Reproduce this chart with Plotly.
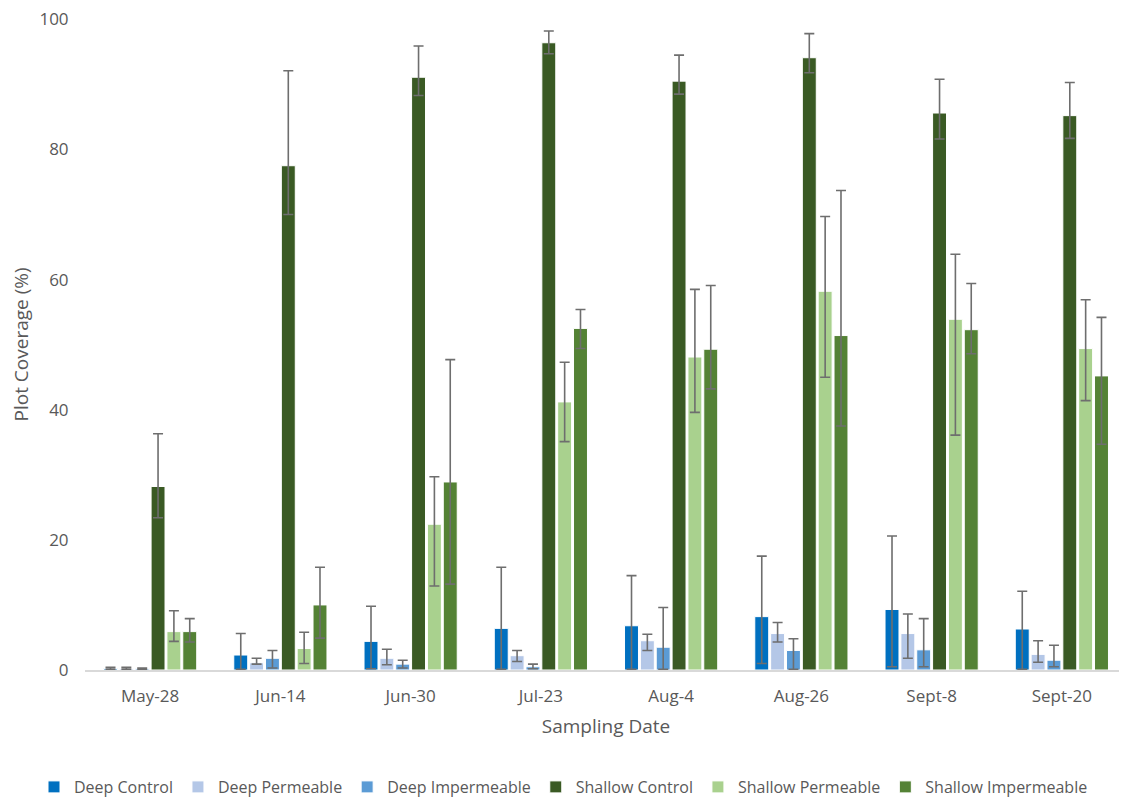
import plotly.graph_objects as go

dates = ["May-28", "Jun-14", "Jun-30", "Jul-23", "Aug-4", "Aug-26", "Sept-8", "Sept-20"]

deep_control = [0.2, 2.3, 4.4, 6.4, 6.8, 8.2, 9.3, 6.3]
deep_control_hi = [0.4, 5.6, 9.8, 15.8, 14.5, 17.5, 20.6, 12.1]
deep_control_lo = [0.1, 0.1, 0.2, 0.1, 0.1, 1.0, 0.5, 0.1]

deep_perm = [0.2, 1.1, 1.8, 2.2, 4.5, 5.6, 5.6, 2.4]
deep_perm_hi = [0.4, 1.8, 3.2, 3.0, 5.5, 7.3, 8.6, 4.5]
deep_perm_lo = [0.1, 0.9, 0.8, 1.3, 3.0, 4.3, 1.8, 1.2]

deep_imp = [0.2, 1.8, 0.9, 0.5, 3.5, 3.0, 3.1, 1.5]
deep_imp_hi = [0.3, 3.0, 1.5, 0.9, 9.6, 4.8, 7.9, 3.8]
deep_imp_lo = [0.1, 0.3, 0.3, 0.2, 0.1, 0.1, 0.5, 0.5]

shallow_control = [28.2, 77.5, 91.1, 96.4, 90.5, 94.1, 85.6, 85.2]
shallow_control_hi = [36.3, 92.1, 95.9, 98.2, 94.5, 97.8, 90.8, 90.3]
shallow_control_lo = [23.4, 70.0, 88.3, 94.7, 88.5, 91.8, 81.6, 81.7]

shallow_perm = [5.9, 3.3, 22.4, 41.2, 48.1, 58.2, 53.9, 49.4]
shallow_perm_hi = [9.1, 5.8, 29.7, 47.3, 58.5, 69.7, 63.9, 56.9]
shallow_perm_lo = [4.4, 1.0, 12.9, 35.1, 39.6, 45.0, 36.1, 41.4]

shallow_imp = [5.9, 10.0, 28.9, 52.5, 49.3, 51.4, 52.3, 45.2]
shallow_imp_hi = [7.9, 15.8, 47.7, 55.4, 59.1, 73.7, 59.4, 54.2]
shallow_imp_lo = [4.3, 4.9, 13.2, 49.4, 43.2, 37.5, 48.6, 34.7]

y_ticks = [0, 20, 40, 60, 80, 100]

series = [
    ("Deep Control", deep_control, deep_control_hi, deep_control_lo, "#0070C0"),
    ("Deep Permeable", deep_perm, deep_perm_hi, deep_perm_lo, "#B4C7E7"),
    ("Deep Impermeable", deep_imp, deep_imp_hi, deep_imp_lo, "#5B9BD5"),
    ("Shallow Control", shallow_control, shallow_control_hi, shallow_control_lo, "#3A5A24"),
    ("Shallow Permeable", shallow_perm, shallow_perm_hi, shallow_perm_lo, "#A9D18E"),
    ("Shallow Impermeable", shallow_imp, shallow_imp_hi, shallow_imp_lo, "#548235"),
]

FONT = "Open Sans"
GRAY = "#595959"

fig = go.Figure()
for name, vals, hi, lo, color in series:
    fig.add_trace(go.Bar(
        name=name, x=dates, y=vals,
        marker=dict(color=color, line=dict(color="white", width=1)),
        error_y=dict(
            type="data", symmetric=False,
            array=[h - v for h, v in zip(hi, vals)],
            arrayminus=[v - l for v, l in zip(vals, lo)],
            color="#6E6E6E", thickness=1.6, width=5,
        ),
    ))

# the page body has an 8px margin, so the figure is drawn at (8, 8)
H, W = 791, 1119
L, R, T, B = 77, 0, 11, 129
plot_h = H - T - B
plot_w = W - L - R

fig.update_layout(
    width=W, height=H,
    barmode="group", bargap=0.27, bargroupgap=0.12,
    paper_bgcolor="white", plot_bgcolor="white",
    margin=dict(l=L, r=R, t=T, b=B, autoexpand=False),
    font=dict(family=FONT, size=16, color=GRAY),
    showlegend=True,
    legend=dict(
        orientation="h", x=(26 - L) / plot_w, xanchor="left",
        y=-(779 - (H - B)) / plot_h, yanchor="middle",
        font=dict(family=FONT, size=16, color=GRAY),
        itemwidth=30, tracegroupgap=0,
    ),
    xaxis=dict(
        showgrid=False, showline=True, linecolor="#D9D9D9", linewidth=1.5,
        ticks="outside", ticklen=10, tickcolor="rgba(0,0,0,0)",
        tickfont=dict(family=FONT, size=17, color=GRAY),
        automargin=False,
        title=dict(text="Sampling Date", font=dict(family=FONT, size=19, color=GRAY), standoff=14),
    ),
    yaxis=dict(
        range=[0, 100.05], tickmode="array", tickvals=y_ticks,
        showgrid=False, showline=False, zeroline=False,
        ticks="outside", ticklen=12, tickcolor="rgba(0,0,0,0)",
        tickfont=dict(family=FONT, size=17, color=GRAY),
        ticklabeloverflow="allow",
        automargin=False,
        title=dict(text="Plot Coverage (%)", font=dict(family=FONT, size=19, color=GRAY), standoff=16),
    ),
)

fig.write_html("out.html")
